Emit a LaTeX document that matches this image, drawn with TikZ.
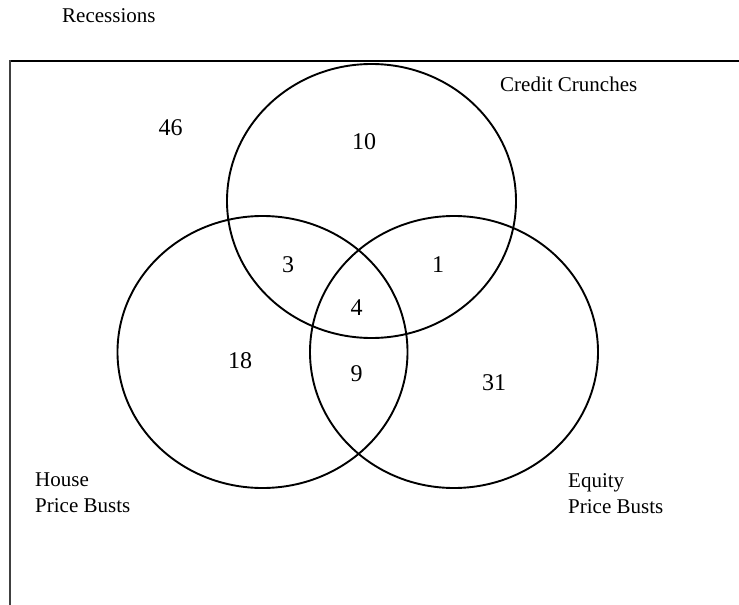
\documentclass[tikz,border=0pt]{standalone}
\usepackage{fontspec}
\setmainfont{Liberation Serif}
\begin{document}
\begin{tikzpicture}[x=1pt,y=-1pt,
  setcircle/.style={line width=1.9pt},
  numlabel/.style={inner sep=0pt,font=\fontsize{24}{28}\selectfont},
  setlabel/.style={inner sep=0pt,anchor=base west,font=\fontsize{21}{26}\selectfont,align=left}]
\useasboundingbox (0,0) rectangle (739,605);
% frame
\draw[line width=2pt] (10,61) -- (739,61);
\draw[line width=1.4pt, black!75] (10,60) -- (10,605);
% sets
\draw[setcircle] (371.5,201) ellipse [x radius=144.5, y radius=137];
\draw[setcircle] (262.5,352) ellipse [x radius=145, y radius=136];
\draw[setcircle] (454,352) ellipse [x radius=144, y radius=136];
% titles
\node[setlabel] (rec) at (62,22.5) {Recessions};
\node[setlabel] (cc) at (500,91.5) {Credit Crunches};
\node[setlabel,anchor=north west] (hpb) at (35,473) {House\\Price Busts};
\node[setlabel,anchor=north west] (epb) at (568,473) {Equity\\Price Busts};
% counts
\node[numlabel] (n46) at (170.5,128) {46};
\node[numlabel] (n10) at (364,141.5) {10};
\node[numlabel] (n3) at (288,265) {3};
\node[numlabel] (n1) at (438,265) {1};
\node[numlabel] (n4) at (356.5,307.5) {4};
\node[numlabel] (n9) at (356.5,374) {9};
\node[numlabel] (n18) at (240,361) {18};
\node[numlabel] (n31) at (494,383) {31};
\end{tikzpicture}
\end{document}
